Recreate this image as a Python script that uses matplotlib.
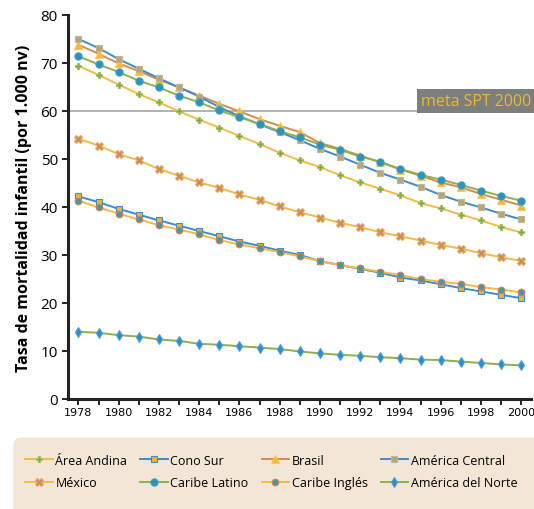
import matplotlib
matplotlib.use("Agg")

import matplotlib.pyplot as plt
from matplotlib.patches import FancyBboxPatch

plt.rcParams["font.family"] = ["Open Sans", "DejaVu Sans"]

years = list(range(1978, 2001))

area_andina = [69.4, 67.5, 65.5, 63.5, 61.8, 59.9, 58.2, 56.5, 54.8, 53.1, 51.3, 49.7,
               48.3, 46.6, 45.1, 43.8, 42.4, 40.8, 39.7, 38.4, 37.2, 35.8, 34.7]
cono_sur = [42.2, 41.0, 39.6, 38.4, 37.2, 36.1, 35.0, 33.9, 32.8, 31.9, 30.9, 30.0,
            28.7, 27.9, 27.1, 26.3, 25.3, 24.7, 23.9, 23.1, 22.4, 21.7, 21.0]
brasil = [73.8, 71.9, 69.9, 68.3, 66.5, 64.9, 63.2, 61.5, 59.9, 58.3, 56.9, 55.6,
          53.3, 52.1, 50.7, 49.3, 47.8, 46.5, 45.1, 44.1, 42.7, 41.5, 40.3]
america_central = [75.0, 73.1, 70.8, 68.8, 66.8, 64.9, 63.0, 60.8, 58.9, 57.2, 55.6, 53.9,
                   52.1, 50.5, 48.8, 47.1, 45.7, 44.2, 42.5, 41.1, 39.9, 38.6, 37.4]
mexico = [54.2, 52.8, 51.0, 49.7, 47.9, 46.5, 45.1, 44.0, 42.6, 41.5, 40.1, 38.9,
          37.8, 36.7, 35.8, 34.7, 33.9, 33.0, 32.1, 31.3, 30.4, 29.5, 28.8]
caribe_latino = [71.4, 69.7, 68.1, 66.3, 64.9, 63.2, 61.8, 60.1, 58.7, 57.3, 55.8, 54.5,
                 53.0, 51.9, 50.5, 49.4, 47.9, 46.7, 45.7, 44.6, 43.4, 42.3, 41.3]
caribe_ingles = [41.3, 39.9, 38.6, 37.4, 36.2, 35.3, 34.3, 33.1, 32.2, 31.4, 30.6, 29.7,
                 28.7, 27.9, 27.2, 26.5, 25.8, 25.0, 24.4, 24.0, 23.3, 22.8, 22.2]
america_norte = [14.0, 13.8, 13.3, 13.0, 12.4, 12.1, 11.5, 11.3, 11.0, 10.7, 10.4, 9.9,
                 9.5, 9.2, 9.0, 8.7, 8.5, 8.2, 8.1, 7.8, 7.5, 7.2, 7.0]

meta_value = 60
meta_label = "meta SPT 2000"

YELLOW = "#f6bb43"
BLUE = "#3c8dcc"
GREEN = "#8fb04a"
BROWN = "#d98a4e"

# (label, values, line colour, marker, marker face, marker edge, marker size)
series = [
    ("Área Andina", area_andina, YELLOW, "P", "#82a838", "#a6c06a", 4.5),
    ("Cono Sur", cono_sur, BLUE, "s", "#f3b42c", "#3c8dcc", 4.8),
    ("Brasil", brasil, BROWN, "^", "#f6b82c", "#f6c85c", 5.2),
    ("América Central", america_central, BLUE, "s", "#b5a67e", "#c2b590", 4.8),
    ("México", mexico, YELLOW, "X", "#d08a4a", "#e0aa70", 5.2),
    ("Caribe Latino", caribe_latino, GREEN, "o", "#2e91c2", "#3aa0b8", 5.2),
    ("Caribe Inglés", caribe_ingles, YELLOW, "o", "#3e9e9a", "#e07a62", 4.8),
    ("América del Norte", america_norte, GREEN, "d", "#2e8ccc", "#4aa0d8", 5.2),
]

fig = plt.figure(figsize=(5.34, 5.10), dpi=100)
ax = fig.add_axes([0.128, 0.2157, 0.867, 0.753])

for label, vals, lc, mk, mfc, mec, ms in series:
    ax.plot(years, vals, color=lc, linewidth=1.4, marker=mk, markersize=ms,
            markerfacecolor=mfc, markeredgecolor=mec, markeredgewidth=0.8,
            label=label)

ax.axhline(meta_value, color="#a6a6a6", linewidth=1.2, zorder=0)
ax.text(2000.5, meta_value + 0.45, meta_label, ha="right", va="bottom",
        fontsize=11.5, color="#f2b531",
        bbox=dict(boxstyle="square,pad=0.25", facecolor="#7b7f7e", edgecolor="none"))

ax.set_xlim(1977.5, 2000.5)
ax.set_ylim(0, 80)
ax.set_xticks(years)
ax.set_xticklabels([str(y) if (y - 1978) % 2 == 0 else "" for y in years],
                   fontsize=8, family=["Liberation Sans Narrow", "DejaVu Sans"])
ax.set_yticks(range(0, 81, 10))
ax.tick_params(axis="y", labelsize=11, length=4, width=1.2)
ax.tick_params(axis="x", length=4, width=1.2, pad=2)
for side in ("top", "right"):
    ax.spines[side].set_visible(False)
for side in ("left", "bottom"):
    ax.spines[side].set_linewidth(2.2)
    ax.spines[side].set_color("#222222")

ax.set_ylabel("Tasa de mortalidad infantil (por 1.000 nv)", fontsize=11.5,
              fontweight="bold", labelpad=6)

fig.add_artist(FancyBboxPatch((0.025, -0.05), 1.0, 0.19, transform=fig.transFigure,
                              boxstyle="round,pad=0,rounding_size=0.015",
                              facecolor="#f3e6d6", edgecolor="none", zorder=0))

# legend reads row by row in the reference; matplotlib fills columns first
handles, labels = ax.get_legend_handles_labels()
order = [0, 4, 1, 5, 2, 6, 3, 7]
fig.legend([handles[i] for i in order], [labels[i] for i in order],
           loc="upper left", bbox_to_anchor=(0.038, 0.118),
           ncol=4, frameon=False, fontsize=9, handlelength=2.2,
           handletextpad=0.2, columnspacing=1.05, labelspacing=0.75,
           borderaxespad=0)

fig.savefig("out.png", dpi=100)
